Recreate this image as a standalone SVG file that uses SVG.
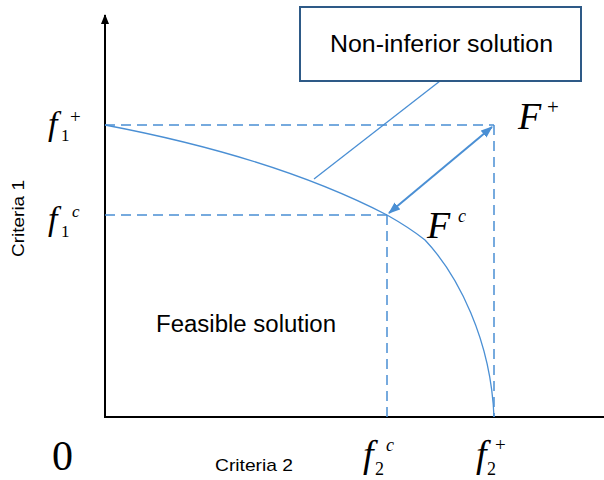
<svg xmlns="http://www.w3.org/2000/svg" width="604" height="480" viewBox="0 0 604 480">
<defs>
<style>
.axis{stroke:#000;stroke-width:2;fill:none}
.dash{stroke:#4a8fd4;stroke-width:1.5;stroke-dasharray:10 6;fill:none}
.curve{stroke:#4a8fd4;stroke-width:1.3;fill:none}
.sans{font-family:"Liberation Sans",Arial,sans-serif;fill:#000}
.math{font-family:"Liberation Serif","Times New Roman",serif;fill:#000}
.it{font-style:italic}
</style>
<marker id="ab" markerWidth="10" markerHeight="10" refX="9" refY="5" orient="auto" markerUnits="userSpaceOnUse"><path d="M0,1 L10,5 L0,9 Z" fill="#000"/></marker>
<marker id="ba" markerWidth="12" markerHeight="10" refX="11" refY="5" orient="auto" markerUnits="userSpaceOnUse"><path d="M0,0.5 L12,5 L0,9.5 Z" fill="#4a8fd4"/></marker>
<marker id="bs" markerWidth="12" markerHeight="10" refX="11" refY="5" orient="auto-start-reverse" markerUnits="userSpaceOnUse"><path d="M0,0.5 L12,5 L0,9.5 Z" fill="#4a8fd4"/></marker>
</defs>
<g id="connectors">
<line class="axis" x1="105" y1="418" x2="105" y2="15" marker-end="url(#ab)"/>
<line class="axis" x1="104" y1="417" x2="604" y2="417"/>
<line class="dash" x1="105" y1="125" x2="494" y2="125"/>
<line class="dash" x1="105" y1="215" x2="387" y2="215"/>
<line class="dash" x1="387" y1="215" x2="387" y2="417"/>
<line class="dash" x1="494" y1="125" x2="494" y2="417"/>
<path class="curve" d="M105,125 C200,143 300,170 387,215 Q410,228 425,240 C458,275 491,340 494,417"/>
<line class="curve" x1="440" y1="81" x2="314" y2="179"/>
<line stroke="#4a8fd4" stroke-width="2" x1="492" y1="127" x2="389" y2="213" marker-start="url(#bs)" marker-end="url(#ba)"/>
</g>
<g id="box">
<rect x="300" y="7" width="281" height="74" fill="#fff" stroke="#2e5a87" stroke-width="2"/>
<text class="sans" x="330" y="52" font-size="23" textLength="223" lengthAdjust="spacingAndGlyphs">Non-inferior solution</text>
</g>
<g id="labels">
<text class="sans" x="156" y="332" font-size="23" textLength="180" lengthAdjust="spacingAndGlyphs">Feasible solution</text>
<text class="sans" x="215" y="471" font-size="17" textLength="78" lengthAdjust="spacingAndGlyphs">Criteria 2</text>
<text class="sans" x="0" y="0" font-size="17" textLength="77" lengthAdjust="spacingAndGlyphs" transform="translate(24,257) rotate(-90)">Criteria 1</text>
<text class="math" x="52" y="470" font-size="42">0</text>
<text class="math it" x="518" y="129" font-size="38">F</text>
<text class="math" x="547" y="114" font-size="21">+</text>
<text class="math it" x="427" y="238" font-size="38">F</text>
<text class="math it" x="458" y="222" font-size="18">c</text>
<text class="math it" x="48" y="135" font-size="34">f</text>
<text class="math" x="61" y="141" font-size="17">1</text>
<text class="math" x="70" y="123" font-size="19">+</text>
<text class="math it" x="48" y="230" font-size="34">f</text>
<text class="math" x="61" y="237" font-size="17">1</text>
<text class="math it" x="72" y="217" font-size="17">c</text>
<text class="math it" x="363" y="467" font-size="38">f</text>
<text class="math" x="375" y="475" font-size="18">2</text>
<text class="math it" x="386" y="451" font-size="18">c</text>
<text class="math it" x="476" y="467" font-size="38">f</text>
<text class="math" x="487" y="475" font-size="18">2</text>
<text class="math" x="495" y="451" font-size="19">+</text>
</g>
</svg>
